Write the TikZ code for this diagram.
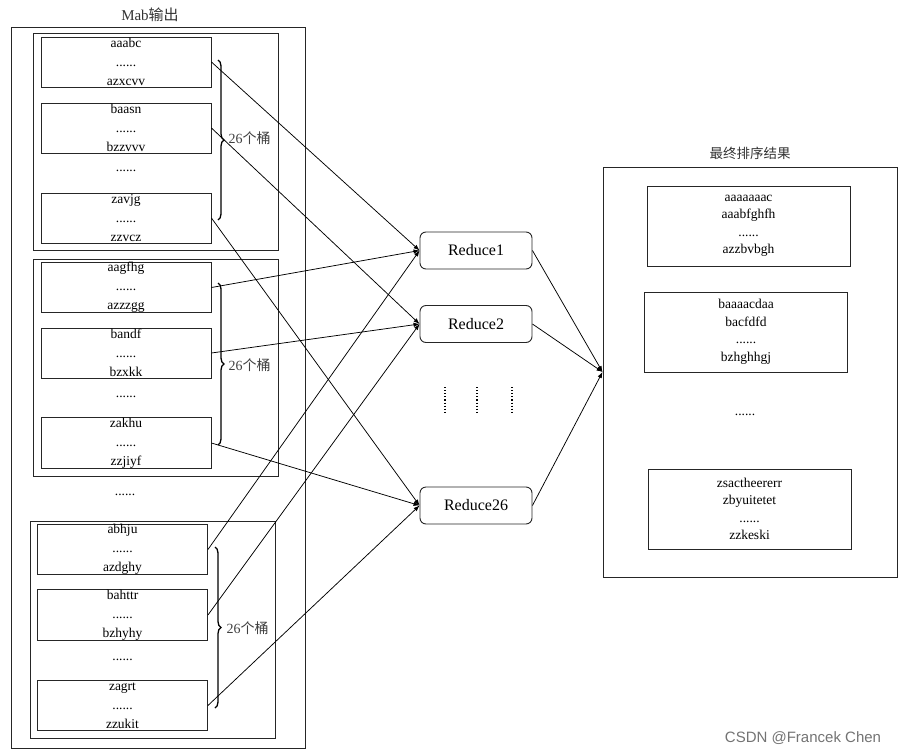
\documentclass[tikz,border=0pt]{standalone}
\usepackage{fontspec}
\setmainfont{Liberation Serif}
\newfontfamily\cjk{Noto Sans CJK SC}
\newfontfamily\marksans{Liberation Sans}
\usetikzlibrary{calc, arrows.meta, decorations.pathreplacing, positioning}

\begin{document}
\begin{tikzpicture}[x=1pt,y=-1pt,
  box/.style={draw=black!85, line width=0.9pt},
  bucket/.style={box, minimum width=170pt, minimum height=50pt, inner sep=0pt, align=center, font=\fontsize{13.5}{19}\selectfont},
  sorted/.style={box, minimum width=203pt, minimum height=80pt, inner sep=0pt, align=center, font=\fontsize{13.5}{17.5}\selectfont},
  reducer/.style={box, rounded corners=6pt, minimum width=112pt, minimum height=37pt, font=\fontsize{16}{18}\selectfont},
  dots/.style={font=\fontsize{13.5}{15}\selectfont},
  link/.style={line width=0.75pt, -{Latex[length=6pt,width=4.5pt]}},
  bucketbrace/.style={decorate, decoration={brace, amplitude=6pt}, line width=1.3pt},
  count/.style={anchor=west, font=\fontsize{14}{16}\selectfont, text=black!75},
]
\useasboundingbox (0,0) rectangle (905,755);

% map side
\node[font=\fontsize{15}{18}\selectfont, text=black!80] (maptitle) at (150,15) {Mab{\cjk 输出}};
\draw[box] (11,27) rectangle (305,748);
\draw[box] (33,33) rectangle (278,250);
\draw[box] (33,259) rectangle (278,476);
\draw[box] (30,521) rectangle (275,738);

\node[bucket] (g1a) at (126,62) {aaabc\\......\\azxcvv};
\node[bucket] (g1b) at (126,128) {baasn\\......\\bzzvvv};
\node[dots] (g1d) at (126,171) {......};
\node[bucket] (g1z) at (126,218) {zavjg\\......\\zzvcz};

\node[bucket] (g2a) at (126,287.5) {aagfhg\\......\\azzzgg};
\node[bucket] (g2b) at (126,353) {bandf\\......\\bzxkk};
\node[dots] (g2d) at (126,397) {......};
\node[bucket] (g2z) at (126,443) {zakhu\\......\\zzjiyf};

\node[dots] (gd) at (125,495) {......};

\node[bucket] (g3a) at (122.5,549.5) {abhju\\......\\azdghy};
\node[bucket] (g3b) at (122.5,615) {bahttr\\......\\bzhyhy};
\node[dots] (g3d) at (122.5,660) {......};
\node[bucket] (g3z) at (122.5,705.5) {zagrt\\......\\zzukit};

\draw[bucketbrace] (218,60) -- (218,220);
\draw[bucketbrace] (218,283) -- (218,445);
\draw[bucketbrace] (215,547) -- (215,708);
\node[count] (c1) at (225,138) {26{\cjk 个桶}};
\node[count] (c2) at (225,365) {26{\cjk 个桶}};
\node[count] (c3) at (223,628) {26{\cjk 个桶}};

% reducers
\node[reducer] (r1) at (476,250.5) {Reduce1};
\node[reducer] (r2) at (476,324) {Reduce2};
\node[reducer] (r26) at (476,505.5) {Reduce26};
\draw[dotted, line width=1.1pt] (445,387) -- (445,412);
\draw[dotted, line width=1.1pt] (477,387) -- (477,412);
\draw[dotted, line width=1.1pt] (512,387) -- (512,412);

% result side
\node[font=\fontsize{13.5}{16}\selectfont, text=black!80] (restitle) at (750,153) {\cjk 最终排序结果};
\node[box, minimum width=294pt, minimum height=410pt] (result) at (750,372) {};
\node[sorted] (s1) at (748.5,226) {aaaaaaac\\aaabfghfh\\......\\azzbvbgh};
\node[sorted] (s2) at (746,332) {baaaacdaa\\bacfdfd\\......\\bzhghhgj};
\node[dots] (sd) at (745,415) {......};
\node[sorted] (s3) at (749.5,509) {zsactheererr\\zbyuitetet\\......\\zzkeski};

% shuffle
\draw[link] (g1a.east) -- (r1.west);
\draw[link] (g2a.east) -- (r1.west);
\draw[link] (g3a.east) -- (r1.west);
\draw[link] (g1b.east) -- (r2.west);
\draw[link] (g2b.east) -- (r2.west);
\draw[link] (g3b.east) -- (r2.west);
\draw[link] (g1z.east) -- (r26.west);
\draw[link] (g2z.east) -- (r26.west);
\draw[link] (g3z.east) -- (r26.west);
\draw[link] (r1.east) -- (result.west);
\draw[link] (r2.east) -- (result.west);
\draw[link] (r26.east) -- (result.west);

\node[font=\fontsize{15}{18}\selectfont\marksans, text=black!55] (mark) at (803,738) {CSDN @Francek Chen};
\end{tikzpicture}
\end{document}
